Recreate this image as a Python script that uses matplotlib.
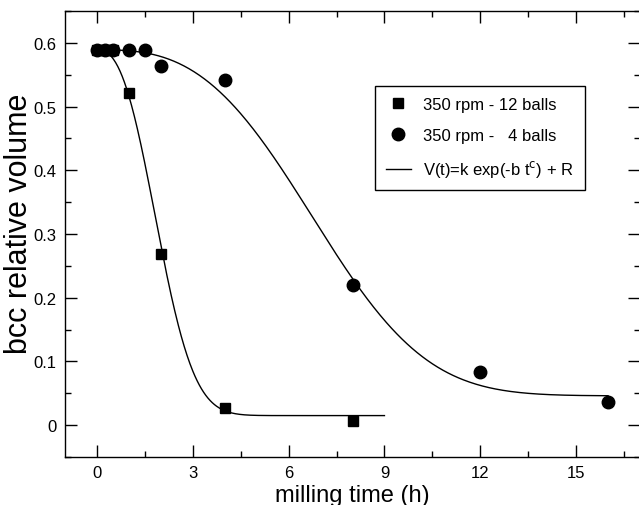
import numpy as np
import matplotlib.pyplot as plt
from matplotlib.ticker import MultipleLocator

plt.rcParams['font.family'] = ['Liberation Sans', 'DejaVu Sans']

# 350 rpm - 12 balls
t_12 = [0, 0.25, 0.5, 1, 2, 4, 8]
v_12 = [0.589, 0.589, 0.589, 0.522, 0.269, 0.027, 0.006]
# 350 rpm - 4 balls
t_4 = [0, 0.25, 0.5, 1, 1.5, 2, 4, 8, 12, 16]
v_4 = [0.589, 0.589, 0.589, 0.589, 0.589, 0.563, 0.542, 0.220, 0.084, 0.037]

# fit parameters of V(t)=k exp(-b t^c) + R
fit_12 = dict(k=0.574, b=0.135, c=2.5, R=0.015, tmax=9)
fit_4 = dict(k=0.543, b=0.0026, c=2.9, R=0.046, tmax=16)


def model(t, k, b, c, R):
    return k * np.exp(-b * t ** c) + R


fig = plt.figure(figsize=(6.39, 5.06), dpi=100)
ax = fig.add_axes([65 / 639, 48 / 506, 575 / 639, 446 / 506])

ax.plot(t_12, v_12, 's', color='black', markersize=7.5, label='350 rpm - 12 balls', zorder=3)
ax.plot(t_4, v_4, 'o', color='black', markersize=9, label='350 rpm -   4 balls', zorder=3)

for i, p in enumerate([fit_12, fit_4]):
    tt = np.linspace(0, p['tmax'], 400)
    ax.plot(tt, model(tt, p['k'], p['b'], p['c'], p['R']), color='black', lw=1.0,
            label='V(t)=k exp(-b t$^{\\rm c}$) + R' if i == 0 else None)

ax.set_xlim(-1, 17)
ax.set_ylim(-0.05, 0.65)
ax.xaxis.set_major_locator(MultipleLocator(3))
ax.xaxis.set_minor_locator(MultipleLocator(1.5))
ax.yaxis.set_minor_locator(MultipleLocator(0.05))
ax.set_yticks([0, 0.1, 0.2, 0.3, 0.4, 0.5, 0.6])
ax.set_yticklabels(['0', '0.1', '0.2', '0.3', '0.4', '0.5', '0.6'])
ax.tick_params(which='both', direction='in', top=True, right=True, labelsize=12, width=1)
ax.tick_params(which='major', length=8.5, pad=6)
ax.tick_params(which='minor', length=4.5)
for s in ax.spines.values():
    s.set_linewidth(1)

ax.set_xlabel('milling time (h)', fontsize=17, labelpad=3)
ax.set_ylabel('bcc relative volume', fontsize=22)
ax.yaxis.set_label_coords(-0.054, 0.526)

leg = ax.legend(loc='upper left', bbox_to_anchor=(0.539, 0.832), borderaxespad=0,
                fontsize=12, numpoints=1, handlelength=1.5, handletextpad=0.75,
                labelspacing=0.95, borderpad=0.65, fancybox=False, framealpha=1,
                edgecolor='black')
leg.get_frame().set_linewidth(1)

plt.savefig('out.png', dpi=100)
